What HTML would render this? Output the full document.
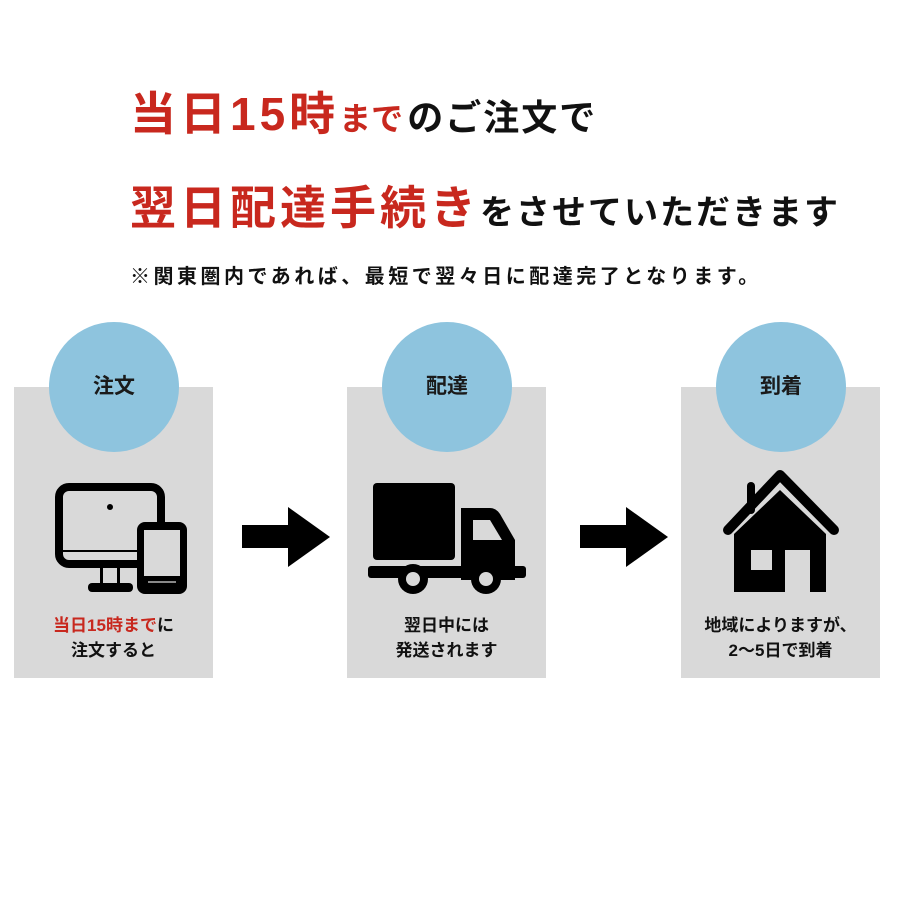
<!DOCTYPE html>
<html><head><meta charset="utf-8"><style>
body{margin:0;width:900px;height:900px;background:#fff;position:relative;overflow:hidden;font-family:"Liberation Sans","Noto Sans CJK JP",sans-serif;font-weight:bold}
.a{position:absolute;white-space:nowrap}
.r{color:#c8281e}
.panel{position:absolute;top:387px;width:199px;height:291px;background:#d9d9d9}
.circ{position:absolute;top:322px;width:130px;height:130px;border-radius:50%;background:#8ec4de;text-align:center;line-height:130px;font-size:21px;color:#1a1a1a}
.cap{position:absolute;top:613px;width:199px;text-align:center;font-size:17px;line-height:25px;color:#111}
</style></head><body>
<div class="a" style="left:130px;top:86px;font-size:46px;line-height:56px;color:#111;letter-spacing:4px"><span class="r">当日15時</span><span class="r" style="font-size:32px;letter-spacing:0">まで</span><span style="font-size:36px;letter-spacing:2px;margin-left:4px">のご注文で</span></div>
<div class="a" style="left:130px;top:180px;font-size:46px;line-height:56px;color:#111;letter-spacing:4px"><span class="r">翌日配達手続き</span><span style="font-size:34px;letter-spacing:2px">をさせていただきます</span></div>
<div class="a" style="left:130px;top:263px;font-size:20px;line-height:28px;color:#111;letter-spacing:3.5px">※関東圏内であれば、最短で翌々日に配達完了となります。</div>

<div class="panel" style="left:14px"></div>
<div class="panel" style="left:347px"></div>
<div class="panel" style="left:681px"></div>
<div class="circ" style="left:49px">注文</div>
<div class="circ" style="left:382px">配達</div>
<div class="circ" style="left:716px">到着</div>

<svg class="a" style="left:0;top:0" width="900" height="900">
<rect x="242" y="525" width="50" height="23" fill="#000"/><polygon points="288,507 330,537 288,567" fill="#000"/>
<rect x="580" y="525" width="50" height="23" fill="#000"/><polygon points="626,507 668,537 626,567" fill="#000"/>
<rect x="59" y="487" width="102" height="77" rx="10" fill="none" stroke="#000" stroke-width="8"/>
<line x1="59" y1="551" x2="161" y2="551" stroke="#000" stroke-width="2"/>
<circle cx="110" cy="507" r="3" fill="#000"/>
<rect x="100" y="564" width="3" height="20" fill="#000"/><rect x="117" y="564" width="3" height="20" fill="#000"/>
<rect x="88" y="583" width="45" height="9" rx="4" fill="#000"/>
<rect x="137" y="522" width="50" height="72" rx="8" fill="#000"/>
<rect x="144" y="530" width="36" height="46" fill="#d9d9d9"/>
<rect x="148" y="581" width="28" height="2" fill="#888"/>
<rect x="373" y="483" width="82" height="77" rx="4" fill="#000"/>
<path d="M461,508 H490 Q496,508 500,514 L515,540 V580 H461 Z" fill="#000"/>
<polygon points="473,520 490,520 502,540 473,540" fill="#d9d9d9"/>
<rect x="368" y="566" width="158" height="12" rx="3" fill="#000"/>
<circle cx="413" cy="579" r="15" fill="#000"/><circle cx="413" cy="579" r="7" fill="#d9d9d9"/>
<circle cx="486" cy="579" r="15" fill="#000"/><circle cx="486" cy="579" r="7" fill="#d9d9d9"/>
<line x1="751" y1="486" x2="751" y2="510" stroke="#000" stroke-width="8" stroke-linecap="round"/>
<polyline points="728,530 780,475 834,530" fill="none" stroke="#000" stroke-width="10" stroke-linecap="round" stroke-linejoin="round"/>
<polygon points="734,534 780,490 826,534 826,592 810,592 810,550 785,550 785,592 734,592" fill="#000"/>
<rect x="751" y="550" width="21" height="20" fill="#d9d9d9"/>
</svg>

<div class="cap" style="left:14px"><span class="r">当日15時まで</span>に<br>注文すると</div>
<div class="cap" style="left:347px">翌日中には<br>発送されます</div>
<div class="cap" style="left:681px">地域によりますが、<br>2〜5日で到着</div>
</body></html>
